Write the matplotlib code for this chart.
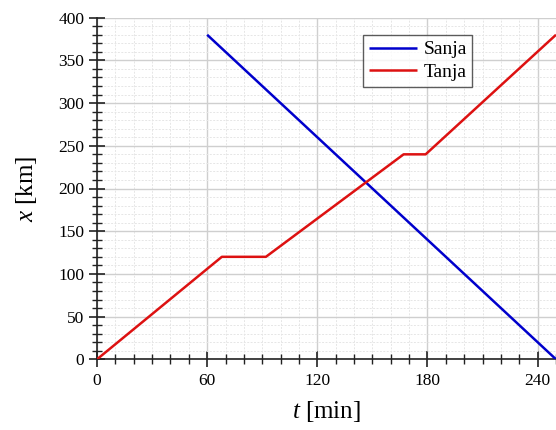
import matplotlib
matplotlib.use("Agg")
import matplotlib.pyplot as plt
from matplotlib.ticker import MultipleLocator

sanja_t = [60, 250]
sanja_x = [380, 0]
tanja_t = [0, 68, 92, 167, 179, 250]
tanja_x = [0, 120, 120, 240, 240, 380]
xticks = [0, 60, 120, 180, 240]
yticks = [0, 50, 100, 150, 200, 250, 300, 350, 400]

plt.rcParams['font.family'] = ['Liberation Serif', 'DejaVu Serif']
plt.rcParams['mathtext.fontset'] = 'custom'
plt.rcParams['mathtext.it'] = 'Liberation Serif:italic'
plt.rcParams['mathtext.rm'] = 'Liberation Serif'

fig = plt.figure(figsize=(5.56, 4.30), dpi=100)
ax = fig.add_axes([97/556, 1-359.3/430, 1-97/556, (359.3-17.7)/430])

ax.plot(sanja_t, sanja_x, color='#0000cc', lw=1.8, label='Sanja', zorder=3, solid_capstyle='butt')
ax.plot(tanja_t, tanja_x, color='#dd1111', lw=1.8, label='Tanja', zorder=3, solid_capstyle='butt')

ax.set_xlim(0, 250)
ax.set_ylim(0, 400)
ax.set_xticks(xticks)
ax.set_yticks(yticks)
ax.xaxis.set_minor_locator(MultipleLocator(10))
ax.yaxis.set_minor_locator(MultipleLocator(10))

ax.grid(which='major', color='#cfcfcf', lw=1.0, ls='-', zorder=0)
ax.grid(which='minor', color='#e6e6e6', lw=0.7, ls=(0, (2, 1.5)), zorder=0)
ax.set_axisbelow(True)

for s in ['top', 'right']:
    ax.spines[s].set_visible(False)
for s in ['left', 'bottom']:
    ax.spines[s].set_linewidth(1.2)
    ax.spines[s].set_color('#222222')

ax.tick_params(which='major', direction='inout', length=12, width=1.2, colors='#222222',
               labelsize=12.5, labelcolor='black')
ax.tick_params(which='minor', direction='inout', length=7, width=1.0, colors='#222222')
ax.tick_params(axis='x', which='major', pad=4)
ax.tick_params(axis='y', which='major', pad=3)

ax.set_xlabel(r'$t$ [min]', fontsize=18, labelpad=7)
ax.set_ylabel(r'$x$ [km]', fontsize=18, labelpad=14)

leg = ax.legend(loc='upper left', bbox_to_anchor=((363-97)/459, 1-(35-17.7)/341.6),
                fontsize=14, frameon=True, fancybox=False, handlelength=2.5,
                borderpad=0.3, labelspacing=0.25, handletextpad=0.3, borderaxespad=0)
leg.get_frame().set_edgecolor('#333333')
leg.get_frame().set_linewidth(1.0)

fig.savefig('out.png', dpi=100)
